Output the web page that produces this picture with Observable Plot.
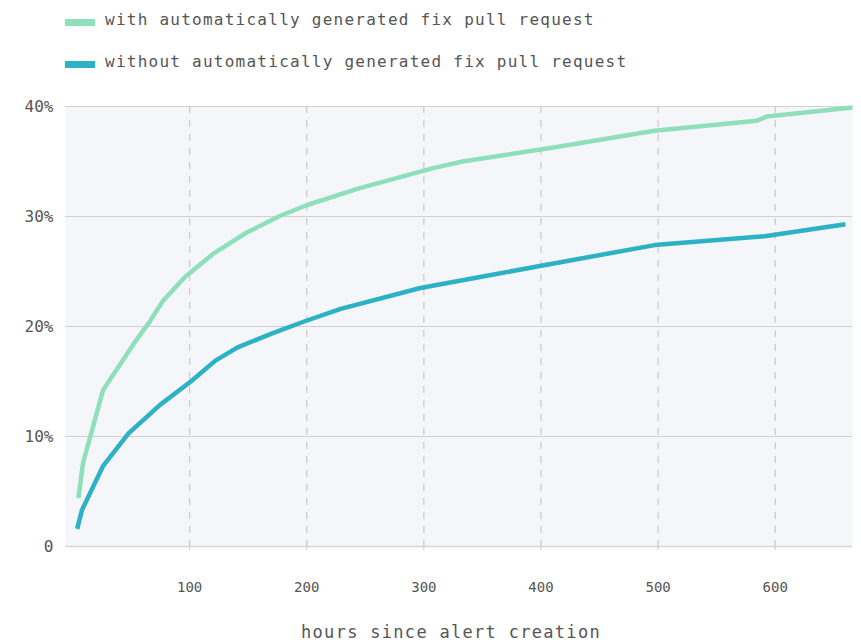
<!DOCTYPE html>
<html>
<head>
<meta charset="utf-8">
<script src="https://cdn.jsdelivr.net/npm/d3@7"></script>
<script src="https://cdn.jsdelivr.net/npm/@observablehq/plot@0.6"></script>
<style>
  html, body { margin: 0; padding: 0; background: #ffffff; }
  body { width: 861px; height: 642px; overflow: hidden; font-family: "DejaVu Sans Mono", monospace; }
  #legend { position: relative; height: 85px; }
  .sw { position: absolute; left: 65px; width: 30px; height: 7px; }
  .lt { position: absolute; left: 105px; font-size: 16px; line-height: 16px; letter-spacing: 1.25px; color: #555; white-space: nowrap; }
</style>
</head>
<body>
<div id="legend"></div>
<div id="chart"></div>
<script>
// Series names and colours
const seriesNames = ["with automatically generated fix pull request", "without automatically generated fix pull request"];
const seriesColors = ["#8fe0ba", "#2db1c4"];

// Series: with automatically generated fix PR (hours, share fixed)
const hoursWith = [5, 9, 26, 54, 65, 77, 96, 120, 148, 176, 199, 246, 308, 333, 412, 497, 584, 593, 666];
const pctWith   = [0.044, 0.076, 0.142, 0.187, 0.203, 0.223, 0.245, 0.266, 0.285, 0.300, 0.310, 0.326, 0.344, 0.350, 0.363, 0.378, 0.387, 0.391, 0.399];

// Series: without automatically generated fix PR
const hoursWithout = [4, 8, 26, 48, 75, 101, 122, 141, 171, 199, 229, 297, 348, 399, 497, 591, 660];
const pctWithout   = [0.016, 0.033, 0.073, 0.103, 0.129, 0.150, 0.169, 0.181, 0.194, 0.205, 0.216, 0.235, 0.245, 0.255, 0.274, 0.282, 0.293];

// Axis ticks
const xTicks = [100, 200, 300, 400, 500, 600];
const yTicks = [0, 0.1, 0.2, 0.3, 0.4];
const xLabel = "hours since alert creation";

const data = [
  ...hoursWith.map((h, i) => ({series: seriesNames[0], hours: h, pct: pctWith[i]})),
  ...hoursWithout.map((h, i) => ({series: seriesNames[1], hours: h, pct: pctWithout[i]}))
];

// Legend (HTML, above the SVG)
const legend = document.getElementById("legend");
const rowTops = [12, 54];
seriesNames.forEach((name, i) => {
  const sw = document.createElement("div");
  sw.className = "sw";
  sw.style.top = (rowTops[i] + 7) + "px";
  sw.style.background = seriesColors[i];
  legend.appendChild(sw);
  const t = document.createElement("div");
  t.className = "lt";
  t.style.top = rowTops[i] + "px";
  t.textContent = name;
  legend.appendChild(t);
});

const chart = Plot.plot({
  width: 861,
  height: 557,
  marginLeft: 65,
  marginRight: 9,
  marginTop: 21,
  marginBottom: 96,
  style: {fontFamily: "DejaVu Sans Mono, monospace", color: "#555", background: "transparent"},
  x: {domain: [-6, 666]},
  y: {domain: [0, 0.4]},
  color: {domain: seriesNames, range: seriesColors},
  marks: [
    Plot.frame({fill: "#f4f6fa", stroke: null}),
    Plot.gridY(yTicks.filter(d => d > 0), {stroke: "#cfcfd6", strokeOpacity: 1, strokeWidth: 1.2}),
    Plot.gridX(xTicks, {stroke: "#c8c8ce", strokeOpacity: 1, strokeDasharray: "7,7", strokeWidth: 1.2}),
    Plot.ruleY([0], {stroke: "#d6d6dc", strokeWidth: 1.5}),
    Plot.axisY(yTicks, {
      tickSize: 0, tickPadding: 12, label: null,
      tickFormat: d => d === 0 ? "0" : Math.round(d * 100) + "%",
      fontSize: 16, fill: "#555"
    }),
    Plot.axisX(xTicks, {
      tickSize: 4, tickPadding: 32, label: null, stroke: "#c8c8ce",
      tickFormat: d => String(d), fontSize: 14, fill: "#555"
    }),
    Plot.text([xLabel], {frameAnchor: "bottom", dy: 91, dx: -8, fontSize: 17, fill: "#555"}),
    Plot.line(data, {x: "hours", y: "pct", z: "series", stroke: "series", strokeWidth: 4.5, strokeLinejoin: "round", strokeLinecap: "butt"})
  ]
});
d3.select(chart).selectAll("text").filter(function() { return this.textContent === xLabel; })
  .attr("letter-spacing", "1.3px");
document.getElementById("chart").appendChild(chart);
</script>
</body>
</html>
